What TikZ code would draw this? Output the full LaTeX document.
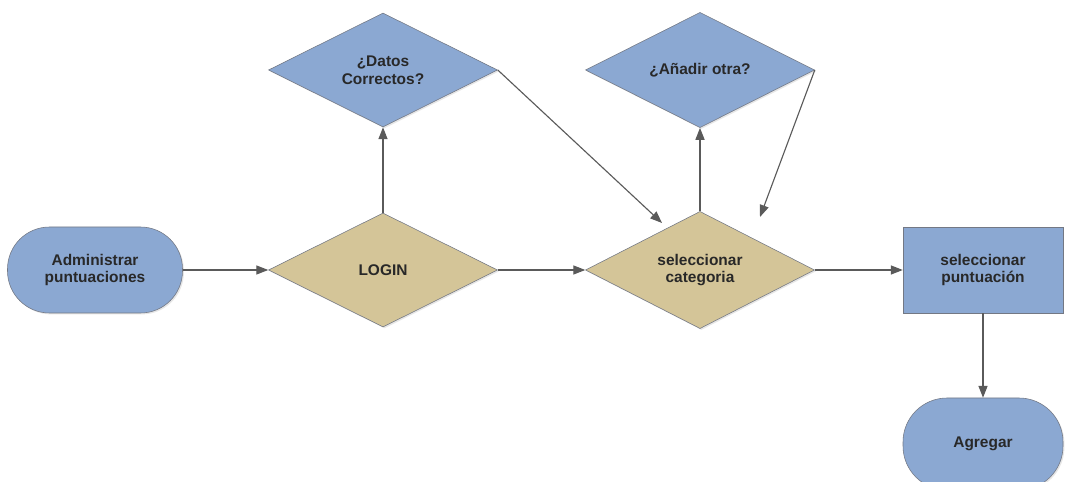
\documentclass[tikz,border=0pt]{standalone}
\usepackage{fontspec}
\setmainfont{Liberation Sans}
\usetikzlibrary{shapes.geometric,arrows.meta,shadows}
\definecolor{boxblue}{RGB}{139,168,210}
\definecolor{boxtan}{RGB}{212,197,152}
\definecolor{edgegray}{RGB}{115,120,132}
\definecolor{linegray}{RGB}{90,90,90}
\definecolor{textgray}{RGB}{40,40,40}
\tikzstyle{shade} = [drop shadow={opacity=0.2, shadow xshift=1pt, shadow yshift=-1pt}]
\tikzstyle{terminal} = [draw=edgegray, fill=boxblue, rectangle, rounded corners=1.05cm,
    minimum width=4.375cm, minimum height=2.15cm, align=center, shade]
\tikzstyle{decision} = [draw=edgegray, fill=boxtan, diamond, inner sep=0pt,
    minimum width=5.725cm, minimum height=2.85cm, align=center, shade]
\tikzstyle{question} = [decision, fill=boxblue]
\tikzstyle{process} = [draw=edgegray, fill=boxblue, rectangle,
    minimum width=4cm, minimum height=2.15cm, align=center, shade]
\tikzstyle{flow} = [draw=linegray, line width=0.8pt, -{Triangle[length=8.5pt,width=6.5pt]}]

\begin{document}
\begin{tikzpicture}[node distance=5cm, font=\fontsize{11}{12.5}\selectfont\bfseries, text=textgray]
    \useasboundingbox (0,0) rectangle (26.675,-12.05);
    % % % % % % % % % % % % % % % % % % % % % % %
    % Main row
    % % % % % % % % % % % % % % % % % % % % % % %
    % Start
    \node [terminal] at (2.375,-6.75) (admin) {Administrar\\puntuaciones};

    % Login check
    \node [decision, right of=admin, node distance=7.2cm] (login) {LOGIN};
    \node [question, above of=login] (datos) {¿Datos\\Correctos?};

    % Category choice
    \node [decision, right of=login, node distance=7.925cm] (categoria) {seleccionar\\categoria};
    \node [question, above of=categoria] (anadir) {¿Añadir otra?};

    % Score choice
    \node [process, right of=categoria, node distance=7.075cm] (puntuacion) {seleccionar\\puntuación};
    \node [terminal, minimum width=4cm, minimum height=2.3cm, rounded corners=1.1cm,
        below of=puntuacion, node distance=4.35cm] (agregar) {Agregar};

    % Free ends of the two loop arrows
    \coordinate (catleft) at ([shift={(-0.95,1.175)}]categoria.center);
    \coordinate (catright) at ([shift={(1.5,1.325)}]categoria.center);

    % Connections
    \draw [flow] (admin) -- (login);
    \draw [flow] (login) -- (datos);
    \draw [flow] (datos.east) -- (catleft);
    \draw [flow] (login) -- (categoria);
    \draw [flow] (categoria) -- (anadir);
    \draw [flow] (anadir.east) -- (catright);
    \draw [flow] (categoria) -- (puntuacion);
    \draw [flow] (puntuacion) -- (agregar);
\end{tikzpicture}
\end{document}
